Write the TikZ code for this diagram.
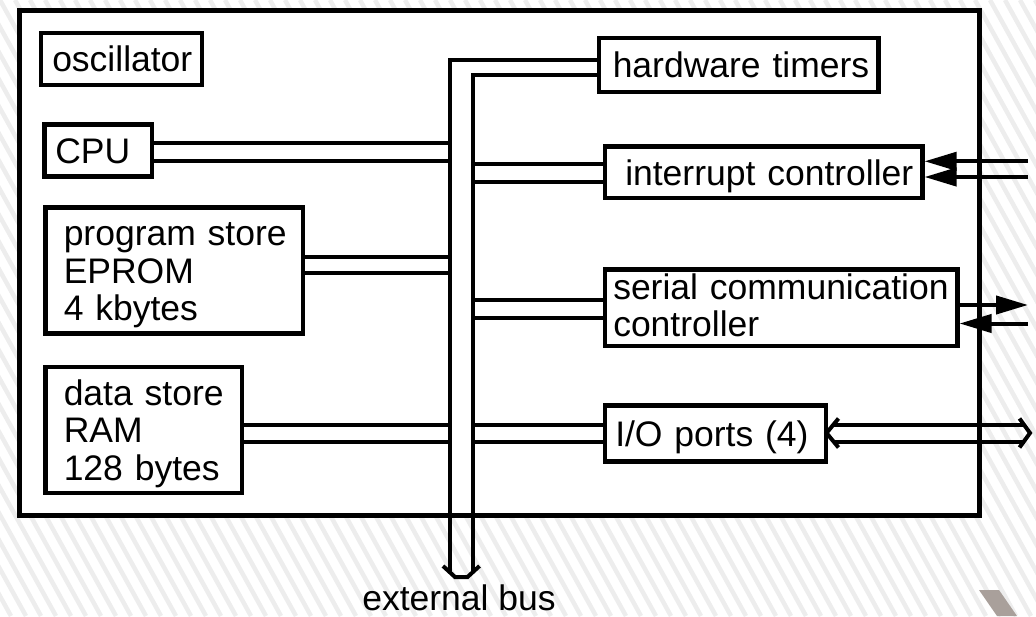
\documentclass[tikz,border=0pt]{standalone}
\usepackage{fontspec}
\setmainfont{Liberation Sans}
\usetikzlibrary{arrows.meta}
\definecolor{hatch}{HTML}{EDEDED}
\definecolor{logo}{HTML}{A9A09B}
\tikzset{
  lbl/.style={font=\fontsize{35.5}{37.5}\selectfont},
  blk/.style={lbl, draw, line width=4.5pt, fill=white, rectangle, anchor=north west,
    inner ysep=0pt, text height=26pt, text depth=0pt, align=left},
  wire/.style={line width=4pt},
  intip/.style={wire, -{Triangle[length=32pt,width=18pt]}},
  hollow/.style={wire, line join=miter}
}
\begin{document}
\begin{tikzpicture}[x=1pt, y=-1pt]
\useasboundingbox (0,0) rectangle (1036,616);

% hatched background and corner mark
\begin{scope}
  \clip (0,0) rectangle (1036,616);
  \foreach \k in {-24,...,70}
    \draw[hatch, line width=4.5pt] (\k*15,0) -- ++(341,616);
  \fill[logo] (979,590) -- (999,590) -- (1017,616) -- (997,616) -- cycle;
\end{scope}

% chip outline
\node[draw, line width=5pt, fill=white, minimum width=960.5pt, minimum height=505pt,
      anchor=north west, inner sep=0pt] (chip) at (16.5,7.5) {};

% left column
\node[blk, minimum width=161pt, minimum height=52pt, inner xsep=11.5pt, text width=138pt]
  (osc) at (38.5,30.5) {\mbox{oscillator}};
\node[blk, minimum width=107.5pt, minimum height=52pt, inner xsep=11pt, text width=85.5pt]
  (cpu) at (42,122) {\mbox{CPU}};
\node[blk, minimum width=257.5pt, minimum height=126pt, inner xsep=18.5pt, text width=220.5pt,
      text depth=75pt]
  (prog) at (43,205) {\mbox{program store}\\\mbox{EPROM}\\\mbox{4 kbytes}};
\node[blk, minimum width=196.5pt, minimum height=126pt, inner xsep=18.5pt, text width=159.5pt,
      text depth=75pt]
  (ram) at (43,364.5) {\mbox{data store}\\\mbox{RAM}\\\mbox{128 bytes}};

% right column
\node[blk, minimum width=279.5pt, minimum height=54pt, inner xsep=14pt, text width=251.5pt]
  (hw) at (596.5,35.5) {\mbox{hardware timers}};
\node[blk, minimum width=317.5pt, minimum height=51.5pt, inner xsep=20.5pt, text width=276.5pt]
  (int) at (602.5,144) {\mbox{interrupt controller}};
\node[blk, minimum width=352.5pt, minimum height=76.5pt, inner xsep=8.5pt, text width=335.5pt,
      text depth=42.5pt]
  (ser) at (602.5,267) {\mbox{serial communication}\\\mbox{controller}};
\node[blk, minimum width=221pt, minimum height=56pt, inner xsep=10.5pt, text width=200pt]
  (io) at (602.5,403) {\mbox{I/O ports (4)}};

% internal bus
\coordinate (busL) at (449.5,0);
\coordinate (busR) at (473,0);
\coordinate (busEnd) at (461.25,577);
\draw[hollow] (hw.west |- 0,60) -- (busL |- 0,60) -- (busL |- 0,572);
\draw[hollow] (hw.west |- 0,75) -- (busR |- 0,75) -- (busR |- 0,572);
\draw[hollow] ([shift={(-18.25,-11)}]busEnd) -- ([shift={(-6.25,0)}]busEnd)
  -- ([shift={(6.25,0)}]busEnd) -- ([shift={(18.25,-11)}]busEnd);
\node[lbl, anchor=base] (ext) at (459,610) {external bus};

% bus taps
\foreach \y in {143,161}
  \draw[wire] (cpu.east |- 0,\y) -- (busL |- 0,\y);
\foreach \y in {257,272.5}
  \draw[wire] (prog.east |- 0,\y) -- (busL |- 0,\y);
\foreach \y in {425,441.5}
  \draw[wire] (ram.east |- 0,\y) -- (busL |- 0,\y);
\foreach \y in {163.5,181.5}
  \draw[wire] (busR |- 0,\y) -- (int.west |- 0,\y);
\foreach \y in {300,317.5}
  \draw[wire] (busR |- 0,\y) -- (ser.west |- 0,\y);
\foreach \y in {425,441.5}
  \draw[wire] (busR |- 0,\y) -- (io.west |- 0,\y);

% external signals
\coordinate (irqA) at (1028,161.3);
\coordinate (irqB) at (1028,177);
\coordinate (txd) at (1028,305);
\coordinate (rxd) at (1028,323.5);
\draw[intip] (irqA) -- (int.east |- irqA);
\draw[intip] (irqB) -- (int.east |- irqB);
\draw[intip] (ser.east |- txd) -- (txd);
\draw[intip] (rxd) -- (ser.east |- rxd);

% I/O port lines (hollow double arrow)
\coordinate (ioTip) at (826.5,433);
\coordinate (ioEnd) at (1030,433);
\draw[wire] ([shift={(7,-8)}]ioTip) -- ([shift={(-5.5,-8)}]ioEnd);
\draw[wire] ([shift={(7,8.5)}]ioTip) -- ([shift={(-5.5,8.5)}]ioEnd);
\draw[hollow] ([shift={(12,-14.5)}]ioTip) -- (ioTip) -- ([shift={(12,14.5)}]ioTip);
\draw[hollow] ([shift={(-10.5,-14.5)}]ioEnd) -- (ioEnd) -- ([shift={(-10.5,14.5)}]ioEnd);
\end{tikzpicture}
\end{document}
